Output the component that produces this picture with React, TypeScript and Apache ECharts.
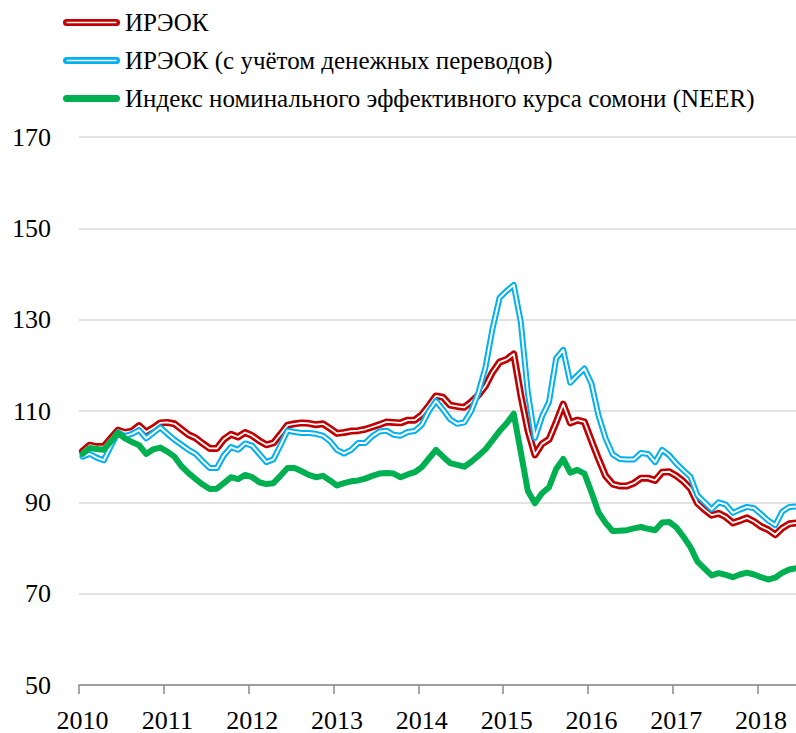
import React, { useEffect, useRef } from "react";
import * as echarts from "echarts";

// Monthly observations, Jan 2010 – Jun 2018
const startYear = 2010;
const monthCount = 102;
const categories: string[] = [];
for (let i = 0; i < monthCount; i++) {
  const y = startYear + Math.floor(i / 12);
  const m = (i % 12) + 1;
  categories.push(`${y}-${m < 10 ? "0" + m : m}`);
}

const seriesNames = [
  "ИРЭОК",
  "ИРЭОК (с учётом денежных переводов)",
  "Индекс номинального эффективного курса сомони (NEER)",
];

const reer = [
  101.2, 102.5, 102.2, 102.2, 104.0, 105.8, 105.3, 105.6, 106.8, 105.4, 106.3, 107.4,
  107.5, 107.2, 106.0, 104.8, 104.1, 102.9, 101.8, 101.8, 103.8, 104.9, 104.3, 105.3,
  104.6, 103.5, 102.6, 103.0, 104.9, 106.9, 107.2, 107.4, 107.3, 107.0, 107.2, 106.2,
  105.1, 105.3, 105.6, 105.7, 106.0, 106.5, 107.0, 107.6, 107.5, 107.4, 108.0, 108.0,
  109.2, 111.2, 113.3, 113.0, 111.3, 111.0, 110.8, 112.0, 113.5, 115.5, 118.5, 120.7,
  121.3, 122.5, 113.5, 105.8, 100.4, 102.8, 103.8, 107.5, 111.5, 107.4, 108.0, 107.6,
  103.5, 99.5, 95.8, 94.0, 93.6, 93.6, 94.2, 95.3, 95.3, 94.8, 96.6, 96.7,
  95.8, 94.6, 93.0, 89.8, 88.4, 87.2, 87.6, 86.8, 85.5, 86.0, 86.6, 85.8,
  84.7, 84.0, 82.9, 84.4, 85.3, 85.5,
];

const reerRemit = [
  100.0, 100.6, 99.8, 99.2, 102.3, 105.3, 104.5, 105.0, 105.8, 104.0, 105.2, 106.4,
  105.0, 103.7, 102.6, 101.5, 100.6, 99.0, 97.5, 97.5, 100.3, 102.1, 101.5, 102.9,
  102.4, 100.6, 98.8, 99.4, 102.5, 105.7, 105.4, 105.2, 105.2, 105.0, 104.6, 103.4,
  101.5, 100.7, 101.5, 103.0, 103.0, 104.5, 105.5, 105.7, 104.8, 104.6, 105.4, 105.6,
  107.0, 110.0, 112.2, 110.3, 108.2, 107.2, 107.5, 110.0, 114.0, 119.5, 128.0, 134.8,
  136.3, 137.6, 129.5, 114.0, 104.1, 108.8, 112.0, 121.5, 123.4, 116.2, 117.8, 119.3,
  116.0, 109.0, 104.0, 100.5, 99.5, 99.4, 99.4, 100.8, 100.6, 98.8, 101.5, 100.3,
  98.5, 97.0, 95.6, 91.5, 90.0, 88.5, 90.0, 89.5, 87.7, 88.4, 89.0, 88.7,
  87.4, 86.0, 85.0, 88.0, 89.0, 89.1,
];

const neer = [
  100.6, 101.9, 101.7, 101.5, 103.3, 105.2, 104.0, 103.2, 102.5, 100.6, 101.6, 102.0,
  101.1, 100.0, 97.9, 96.4, 95.1, 93.9, 92.9, 93.0, 94.2, 95.5, 95.1, 96.0,
  95.5, 94.4, 94.0, 94.2, 95.8, 97.5, 97.5, 96.8, 96.0, 95.5, 95.8, 94.8,
  93.7, 94.2, 94.6, 94.8, 95.2, 95.8, 96.3, 96.4, 96.3, 95.5, 96.1, 96.6,
  97.7, 99.6, 101.5, 100.0, 98.6, 98.2, 97.8, 98.9, 100.2, 101.6, 103.6, 105.6,
  107.3, 109.4, 101.0, 92.5, 89.8, 92.0, 93.3, 97.3, 99.5, 96.5, 97.1, 96.3,
  92.2, 87.8, 85.5, 83.7, 83.8, 83.9, 84.3, 84.6, 84.2, 83.9, 85.6, 85.7,
  84.5, 82.5, 80.2, 77.0, 75.5, 74.0, 74.5, 74.1, 73.6, 74.2, 74.6, 74.2,
  73.6, 73.1, 73.5, 74.6, 75.3, 75.6,
];

const RED = "#C00000";
const BLUE = "#00B0F0";
const GREEN = "#00B050";
const FONT = "Liberation Serif";

const ringIcon =
  "path://M3.5,0H53.5A3.5,3.5 0 0 1 53.5,7H3.5A3.5,3.5 0 0 1 3.5,0Z M3.5,2.7V4.3H53.5V2.7Z";
const solidIcon = "path://M3.5,0H53.5A3.5,3.5 0 0 1 53.5,7H3.5A3.5,3.5 0 0 1 3.5,0Z";

export default function App() {
  const ref = useRef<HTMLDivElement>(null);
  useEffect(() => {
    document.body.style.margin = "0";
    if (!ref.current) return;
    const chart = echarts.init(ref.current, null, { renderer: "svg" });
    const mkLine = (name: string, data: number[], color: string, width: number, silent = false) => ({
      name,
      type: "line",
      data,
      showSymbol: false,
      symbol: "none",
      silent,
      lineStyle: { color, width, cap: "round", join: "round" },
      itemStyle: { color },
      emphasis: { disabled: true },
    });
    chart.setOption({
      animation: false,
      backgroundColor: "#ffffff",
      textStyle: { fontFamily: FONT },
      legend: {
        orient: "vertical",
        left: 63,
        top: 10,
        padding: 0,
        itemWidth: 57,
        itemHeight: 7,
        itemGap: 13,
        selectedMode: false,
        itemStyle: { borderWidth: 0 },
        textStyle: { fontSize: 25, color: "#000", fontFamily: FONT },
        data: [
          { name: seriesNames[0], icon: ringIcon, textStyle: { fontFamily: FONT } },
          { name: seriesNames[1], icon: ringIcon, textStyle: { fontFamily: FONT } },
          { name: seriesNames[2], icon: solidIcon, textStyle: { fontFamily: FONT } },
        ],
      },
      grid: {
        left: 79,
        right: -4,
        top: 137,
        bottom: 48,
        containLabel: false,
        outerBoundsMode: "none",
      },
      xAxis: {
        type: "category",
        data: categories,
        boundaryGap: true,
        axisLine: { show: true, lineStyle: { color: "#898989", width: 1.5 } },
        axisTick: {
          show: true,
          length: 9,
          interval: (i: number) => i % 12 === 0,
          lineStyle: { color: "#898989", width: 1.5 },
        },
        axisLabel: {
          interval: (i: number) => i % 12 === 0,
          formatter: (v: string) => v.slice(0, 4),
          fontSize: 26,
          color: "#000",
          fontFamily: FONT,
          margin: 22,
        },
        splitLine: { show: false },
      },
      yAxis: {
        type: "value",
        min: 50,
        max: 170,
        interval: 20,
        axisLine: { show: false },
        axisTick: { show: false },
        axisLabel: { fontSize: 26, color: "#000", fontFamily: FONT, margin: 28 },
        splitLine: { lineStyle: { color: "#D9D9D9", width: 1.5 } },
      },
      series: [
        mkLine(seriesNames[0], reer, RED, 7),
        mkLine("reer-inner", reer, "#ffffff", 1.8, true),
        mkLine(seriesNames[1], reerRemit, BLUE, 6),
        mkLine("reer-remit-inner", reerRemit, "#ffffff", 2, true),
        mkLine(seriesNames[2], neer, GREEN, 6),
      ],
    });
    return () => chart.dispose();
  }, []);
  return <div ref={ref} style={{ width: 796, height: 733 }} />;
}
